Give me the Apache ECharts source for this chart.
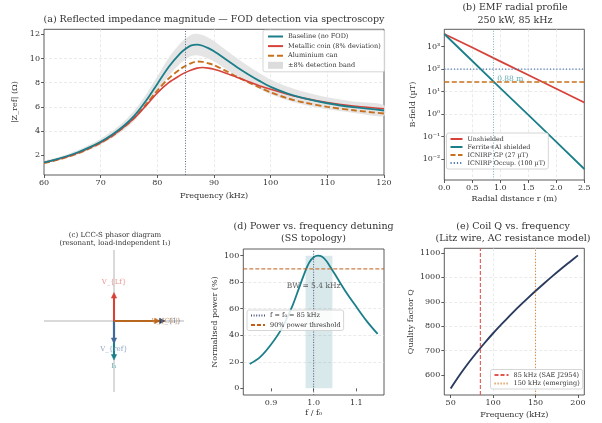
<!DOCTYPE html>
<html><head><meta charset="utf-8">
<script src="https://cdn.jsdelivr.net/npm/echarts@6/dist/echarts.min.js"></script>
<style>html,body{margin:0;padding:0;background:#fff}#c{width:602px;height:423px}</style>
</head><body><div id="c"></div>
<script>
// ---------- (a) reflected impedance ----------
const freqA = [60,62,64,66,68,70,72,74,76,78,80,82,84,85,86,87,88,89,90,92,94,96,98,100,103,106,110,115,120];
const zBaseline = [1.42,1.65,1.92,2.25,2.65,3.12,3.7,4.4,5.3,6.5,7.9,9.3,10.4,10.8,11.08,11.15,11.05,10.85,10.6,9.95,9.3,8.7,8.15,7.65,7.1,6.7,6.3,5.95,5.7];
const zCoin = [1.4,1.62,1.88,2.2,2.6,3.05,3.6,4.3,5.1,6.1,7.15,8.0,8.6,8.85,9.05,9.2,9.25,9.2,9.1,8.8,8.45,8.1,7.75,7.45,7.05,6.7,6.35,6.05,5.85];
const zCan = [1.35,1.58,1.84,2.16,2.56,3.02,3.58,4.28,5.12,6.2,7.35,8.35,9.1,9.4,9.62,9.75,9.72,9.6,9.45,9.0,8.5,8.05,7.6,7.2,6.7,6.35,6.0,5.7,5.45];
const bandFraction = 0.08;
const fResA = 85;
const ticksAx = [60,70,80,90,100,110,120];
const ticksAy = [2,4,6,8,10,12];

// ---------- (b) EMF radial profile ----------
const radius = [0,0.5,1.0,1.5,2.0,2.5];
const bUnshielded = [3640,910,223,55,13.5,3.3];
const bShielded = [3640,230,14.5,0.93,0.059,0.0037];
const limitGP = 27;
const limitOcc = 100;
const crossRadius = 0.88;
const ticksBx = [0,0.5,1.0,1.5,2.0,2.5];
const ticksBy = [0.01,0.1,1,10,100,1000];

// ---------- (c) phasor diagram ----------
const phasorNames  = ['I₁','V_{ref}','V_{1}','V_{C1}','V_{Lf}'];
const phasorTipX   = [0, 0, 0.875, 0.79, 0];
const phasorTipY   = [-0.66, -0.38, 0, 0, 0.48];
const phasorLabelX = [0, 0, 0.965, 0.875, 0];
const phasorLabelY = [-0.77, -0.48, 0, 0, 0.65];

// ---------- (d) power vs detuning ----------
const fRatio = [0.85,0.875,0.9,0.925,0.95,0.965,0.98,0.99,1.0,1.01,1.02,1.03,1.04,1.05,1.075,1.1,1.125,1.15];
const powerPct = [18.3,23.7,33,45,62,75,88,95,98.8,100,99.2,96,91,86,73,61.5,50.5,41];
const bwEdges = [0.981, 1.044];
const threshold90 = 90;
const ticksDx = [0.9,1.0,1.1];
const ticksDy = [0,20,40,60,80,100];

// ---------- (e) coil Q ----------
const freqQ = [50,60,70,80,90,100,110,120,130,140,150,160,170,180,190,200];
const qFactor = [545,597,645,689,731,771,808,844,879,912,944,975,1005,1034,1062,1090];
const fSAE = 85, fEmerging = 150;
const ticksEx = [50,100,150,200];
const ticksEy = [600,700,800,900,1000,1100];

// ---------- styling ----------
const F = 'DejaVu Serif', T = '#333';
const C = {teal:'#1b7f8a', red:'#d6423a', orange:'#c8701e', navy:'#2a3b5f', steel:'#44689a', band:'#e2e2e2'};
const gridLine = {show:true, showMinLine:false, showMaxLine:false, lineStyle:{color:'#e4e4e4', type:[3,2], width:0.8}};
function ax(type, gi, min, max, ticks, name, gap, fmt, extra) {
  return Object.assign({
    type, gridIndex: gi, min, max,
    axisLine:{show:false},
    axisTick:{show:true, length:3, customValues:ticks, lineStyle:{color:'#333', width:0.8}},
    axisLabel:{customValues:ticks, color:T, fontFamily:F, fontSize:8, margin:4, formatter:fmt || (v => String(v))},
    splitLine: gridLine,
    name, nameLocation:'middle', nameGap:gap,
    nameTextStyle:{color:T, fontFamily:F, fontSize:8}
  }, extra || {});
}
const supMap = {'-':'⁻','0':'⁰','1':'¹','2':'²','3':'³','4':'⁴'};
const logFmt = v => '10' + String(Math.round(Math.log10(v))).split('').map(c => supMap[c]).join('');
const f1 = v => Number(v).toFixed(1);
const pairs = (xs, ys) => xs.map((x,i) => [x, ys[i]]);
const boxGrid = {show:true, borderColor:'#333', borderWidth:0.8, backgroundColor:'transparent'};
const legendBase = {orient:'vertical', backgroundColor:'rgba(255,255,255,0.85)', borderColor:'#cccccc', borderWidth:0.8, borderRadius:2,
  textStyle:{fontFamily:F, fontSize:6.5, color:T}, itemHeight:7, selectedMode:false,
  itemStyle:{color:'rgba(0,0,0,0)', borderWidth:0}};
const noLabel = 'rgba(0,0,0,0)';

const series = [];
// (a)
series.push({name:'±8% detection band', type:'custom', xAxisIndex:0, yAxisIndex:0, silent:true, z:1,
  itemStyle:{color:'#dedede'},
  data: freqA.map((f,i)=>[f, zBaseline[i]*(1-bandFraction), zBaseline[i]*(1+bandFraction)]),
  encode:{x:0, y:[1,2]},
  renderItem:(params, api) => {
    if (params.dataIndex !== 0) return null;
    const pts = [];
    for (let i = 0; i < freqA.length; i++) pts.push(api.coord([freqA[i], zBaseline[i]*(1+bandFraction)]));
    for (let i = freqA.length-1; i >= 0; i--) pts.push(api.coord([freqA[i], zBaseline[i]*(1-bandFraction)]));
    return {type:'polygon', shape:{points:pts, smooth:0.25}, style:{fill:C.band, opacity:0.9}};
  }});
series.push({name:'Aluminium can', type:'line', xAxisIndex:0, yAxisIndex:0, symbol:'none', smooth:0.3, color:C.orange, z:3,
  lineStyle:{width:1.9, type:[6,3], color:C.orange}, data:pairs(freqA, zCan)});
series.push({name:'Metallic coin (8% deviation)', type:'line', xAxisIndex:0, yAxisIndex:0, symbol:'none', smooth:0.3, color:C.red, z:3,
  lineStyle:{width:1.6, color:C.red}, data:pairs(freqA, zCoin)});
series.push({name:'Baseline (no FOD)', type:'line', xAxisIndex:0, yAxisIndex:0, symbol:'none', smooth:0.3, color:C.teal, z:3,
  lineStyle:{width:1.8, color:C.teal}, data:pairs(freqA, zBaseline),
  markLine:{silent:true, symbol:'none', label:{show:false}, lineStyle:{color:'#4a5884', type:[1,1.6], width:0.9}, data:[{xAxis:fResA}]}});
// (b)
series.push({name:'Unshielded', type:'line', xAxisIndex:1, yAxisIndex:1, symbol:'none', color:C.red,
  lineStyle:{width:1.8, color:C.red}, data:pairs(radius, bUnshielded)});
series.push({name:'Ferrite+Al shielded', type:'line', xAxisIndex:1, yAxisIndex:1, symbol:'none', color:C.teal,
  lineStyle:{width:1.8, color:C.teal}, data:pairs(radius, bShielded),
  markLine:{silent:true, symbol:'none', label:{show:false}, lineStyle:{color:'#6aaab5', type:[1,1.6], width:0.9}, data:[{xAxis:crossRadius}]}});
series.push({name:'ICNIRP GP (27 µT)', type:'line', xAxisIndex:1, yAxisIndex:1, symbol:'none', color:C.orange,
  lineStyle:{width:1.4, type:[5,2.5], color:C.orange}, data:[[ticksBx[0], limitGP],[ticksBx[ticksBx.length-1], limitGP]]});
series.push({name:'ICNIRP Occup. (100 µT)', type:'line', xAxisIndex:1, yAxisIndex:1, symbol:'none', color:'#4a78b0',
  lineStyle:{width:1.1, type:[1.2,2], color:'#4a78b0'}, data:[[ticksBx[0], limitOcc],[ticksBx[ticksBx.length-1], limitOcc]]});
series.push({name:'crossLabel', type:'scatter', xAxisIndex:1, yAxisIndex:1, symbolSize:1, itemStyle:{color:noLabel}, silent:true, z:5,
  data:[[crossRadius+0.055, 35]],
  label:{show:true, position:'right', distance:0, formatter: crossRadius.toFixed(2)+' m', color:'#3c95a0', fontFamily:F, fontSize:7.5}});
// (c)
const phasorColors = [C.teal, C.steel, C.navy, '#b9661f', '#d6423a'];
const phasorLabelColors = ['#3b979e', '#7590b8', '#5d6a86', '#d08a45', '#e27b72'];
series.push({name:'phasorAxes', type:'line', xAxisIndex:2, yAxisIndex:2, silent:true, symbol:'none', z:1, color:'#b4b4b4',
  lineStyle:{color:'#b4b4b4', width:1}, data:[[-1.2,0],[1.2,0]]});
series.push({name:'phasorAxesV', type:'line', xAxisIndex:2, yAxisIndex:2, silent:true, symbol:'none', z:1, color:'#b4b4b4',
  lineStyle:{color:'#b4b4b4', width:1}, data:[[0,-1.2],[0,1.2]]});
phasorNames.forEach((n,i) => {
  series.push({name:'phasorShaft'+i, type:'line', xAxisIndex:2, yAxisIndex:2, silent:true, symbol:'none', z:4+i,
    color:phasorColors[i], lineStyle:{color:phasorColors[i], width:2.1, opacity:1},
    data:[[0,0],[phasorTipX[i]*0.93, phasorTipY[i]*0.93]]});
});
series.push({name:'phasorHeads', type:'custom', xAxisIndex:2, yAxisIndex:2, silent:true, z:12,
  data: phasorNames.map((n,i)=>[phasorTipX[i], phasorTipY[i], i]),
  encode:{x:0, y:1},
  renderItem:(params, api) => {
    const i = api.value(2);
    const o = api.coord([0,0]);
    const t = api.coord([api.value(0), api.value(1)]);
    const dx = t[0]-o[0], dy = t[1]-o[1];
    const L = Math.sqrt(dx*dx+dy*dy) || 1;
    const ux = dx/L, uy = dy/L, head = 5.5, hw = 2.7;
    const b = [t[0]-ux*head, t[1]-uy*head];
    const col = phasorColors[i];
    return {type:'polygon', shape:{points:[t, [b[0]-uy*hw, b[1]+ux*hw], [b[0]+uy*hw, b[1]-ux*hw]]}, style:{fill:col, stroke:col, lineWidth:0.5}};
  }});
series.push({name:'phLabels', type:'scatter', xAxisIndex:2, yAxisIndex:2, symbolSize:1, itemStyle:{color:noLabel}, silent:true, z:14,
  data: phasorNames.map((n,i)=>({name:n, value:[phasorLabelX[i], phasorLabelY[i]],
    label:{show:true, position:'inside', formatter:'{b}', color:phasorLabelColors[i], fontFamily:F, fontSize:7}}))});
// (d)
series.push({name:'power', type:'line', xAxisIndex:3, yAxisIndex:3, symbol:'none', smooth:0.3, color:C.teal,
  lineStyle:{width:1.8, color:C.teal}, data:pairs(fRatio, powerPct),
  markArea:{silent:true, itemStyle:{color:'rgba(27,127,138,0.17)'}, data:[[{xAxis:bwEdges[0], yAxis:0},{xAxis:bwEdges[1], yAxis:100}]]}});
series.push({name:'f = f₀ = 85 kHz', type:'line', xAxisIndex:3, yAxisIndex:3, symbol:'none', color:'#46507a',
  lineStyle:{width:0.9, type:[1,1.6], color:'#46507a'}, data:[[1.0,-5],[1.0,105]]});
series.push({name:'90% power threshold', type:'line', xAxisIndex:3, yAxisIndex:3, symbol:'none', color:'#bf5f1a',
  lineStyle:{width:1, type:[4,2], color:'#bf5f1a'}, data:[[0.835,threshold90],[1.165,threshold90]]});
series.push({name:'bwLabel', type:'scatter', xAxisIndex:3, yAxisIndex:3, symbolSize:1, itemStyle:{color:noLabel}, silent:true, z:5,
  data:[[1.0, 76.8]],
  label:{show:true, position:'inside', formatter:'BW = '+((bwEdges[1]-bwEdges[0])*85).toFixed(1)+' kHz', color:T, fontFamily:F, fontSize:7.5}});
// (e)
series.push({name:'Q', type:'line', xAxisIndex:4, yAxisIndex:4, symbol:'none', smooth:0.3, color:C.navy,
  lineStyle:{width:1.9, color:C.navy}, data:pairs(freqQ, qFactor)});
series.push({name:'85 kHz (SAE J2954)', type:'line', xAxisIndex:4, yAxisIndex:4, symbol:'none', color:'#e0574f',
  lineStyle:{width:1.1, type:[4,2], color:'#e0574f'}, data:[[fSAE,518],[fSAE,1119]]});
series.push({name:'150 kHz (emerging)', type:'line', xAxisIndex:4, yAxisIndex:4, symbol:'none', color:'#d99045',
  lineStyle:{width:1.1, type:[1.2,1.8], color:'#d99045'}, data:[[fEmerging,518],[fEmerging,1119]]});

const titleText = (x, y, text, size, lh) => ({type:'text', x, y, style:{text, fill:T, font:size+'px "DejaVu Serif"', textAlign:'center', textVerticalAlign:'top', lineHeight:lh}});

const option = {
  animation:false,
  backgroundColor:'#fff',
  graphic: [
    titleText(214, 14, '(a) Reflected impedance magnitude — FOD detection via spectroscopy', 9.5, 12),
    titleText(515, 1.5, '(b) EMF radial profile\n250 kW, 85 kHz', 9.5, 12.5),
    titleText(115, 230.5, '(c) LCC-S phasor diagram\n(resonant, load-independent I₁)', 7, 8.5),
    titleText(313.5, 221, '(d) Power vs. frequency detuning\n(SS topology)', 9.5, 12),
    titleText(513, 221, '(e) Coil Q vs. frequency\n(Litz wire, AC resistance model)', 9.5, 12)
  ],
  grid:[
    Object.assign({left:44, top:29.3, width:340, height:145.7}, boxGrid),
    Object.assign({left:444.3, top:29.3, width:140, height:150.7}, boxGrid),
    {left:44, top:250, width:140, height:142, show:false},
    Object.assign({left:243.3, top:249, width:140.7, height:146}, boxGrid),
    Object.assign({left:444.3, top:248.3, width:140, height:146.7}, boxGrid)
  ],
  xAxis:[
    ax('value',0,60,120,ticksAx,'Frequency (kHz)',17),
    ax('value',1,0,2.5,ticksBx,'Radial distance r (m)',14.5,f1),
    {type:'value', gridIndex:2, min:-1.2, max:1.2, show:false},
    ax('value',3,0.835,1.165,ticksDx,'f / f₀',13.5,f1),
    ax('value',4,42.5,207.5,ticksEx,'Frequency (kHz)',16)
  ],
  yAxis:[
    ax('value',0,0.37,12.41,ticksAy,'|Z_ref| (Ω)',20),
    ax('log',1,0.0012,5888,ticksBy,'B-field (µT)',27,logFmt,{logBase:10}),
    {type:'value', gridIndex:2, min:-1.2, max:1.2, show:false},
    ax('value',3,-5,105,ticksDy,'Normalised power (%)',24),
    ax('value',4,518,1119,ticksEy,'Quality factor Q',29)
  ],
  legend:[
    Object.assign({}, legendBase, {left:263, top:30, padding:[3,4], itemWidth:15, itemGap:2.6,
      data:['Baseline (no FOD)','Metallic coin (8% deviation)','Aluminium can',{name:'±8% detection band', icon:'rect', itemStyle:{color:'#dcdcdc'}}]}),
    Object.assign({}, legendBase, {left:446.5, top:133, padding:[3,3], itemWidth:12, itemGap:2, textStyle:{fontFamily:F, fontSize:6.3, color:T},
      data:['Unshielded','Ferrite+Al shielded','ICNIRP GP (27 µT)','ICNIRP Occup. (100 µT)']}),
    Object.assign({}, legendBase, {left:247, top:310, padding:[2,3], itemWidth:14, itemGap:2.5,
      data:['f = f₀ = 85 kHz','90% power threshold']}),
    Object.assign({}, legendBase, {left:490.5, top:369.5, padding:[2,3], itemWidth:14, itemGap:1.5,
      data:['85 kHz (SAE J2954)','150 kHz (emerging)']})
  ],
  series
};
const chart = echarts.init(document.getElementById('c'), null, {renderer:'canvas'});
chart.setOption(option);
</script></body></html>
